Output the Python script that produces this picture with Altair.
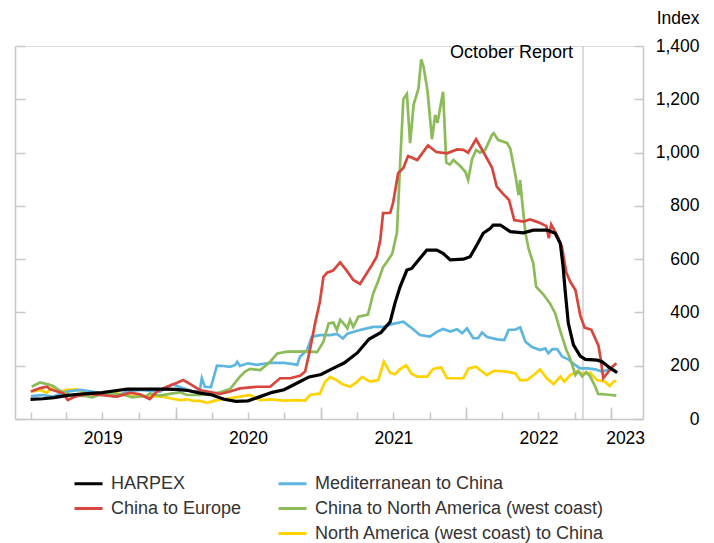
import altair as alt
import pandas as pd

FONT = "Liberation Sans"
AX_COL = "#c8c8c8"

# ---- data (days since 2019-01-01, index values) ----
harpex_days = [0, 31, 59, 89, 120, 151, 180, 213, 243, 273, 303, 334, 365, 396, 424, 457, 487, 517, 547, 578,
               608, 638, 671, 701, 731, 761, 789, 822, 852, 882, 905, 917, 930, 947, 959, 980, 997, 1022, 1038, 1056,
               1089, 1106, 1123, 1139, 1157, 1164, 1182, 1207, 1240, 1265, 1300, 1320, 1333, 1340, 1345, 1353, 1366,
               1383, 1396, 1426, 1438, 1454, 1476]
harpex_vals = [74, 76, 80, 88, 93, 96, 99, 106, 112, 112, 112, 112, 111, 107, 98, 90, 74, 66, 68, 84,
               100, 110, 135, 158, 167, 190, 210, 248, 300, 325, 365, 435, 497, 559, 565, 603, 634, 634, 622, 597,
               600, 609, 653, 697, 716, 728, 728, 703, 699, 709, 709, 697, 659, 572, 484, 360, 278,
               236, 224, 221, 215, 196, 174]

europe_days = [1, 24, 42, 49, 67, 82, 94, 112, 142, 175, 218, 250, 275, 300, 318, 343, 369, 384, 401, 426,
               477, 502, 527, 570, 603, 628, 653, 678, 691, 703, 716, 728, 737, 746, 761, 779, 796, 812, 829, 846,
               859, 871, 880, 887, 905, 912, 925, 938, 950, 973, 1000, 1021, 1048, 1073, 1089, 1101, 1121, 1139,
               1161, 1173, 1189, 1204, 1217, 1240, 1257, 1278, 1298, 1304, 1310, 1323, 1337, 1348, 1358, 1371,
               1383, 1394, 1411, 1429, 1435, 1441, 1454, 1464, 1474]
europe_vals = [103, 116, 121, 112, 103, 97, 71, 84, 94, 90, 84, 99, 93, 75, 103, 121, 136, 146, 132, 109,
               94, 103, 115, 121, 121, 153, 153, 162, 178, 259, 359, 440, 534, 549, 557, 588, 556, 522, 507, 547,
               578, 609, 672, 773, 774, 810, 923, 942, 987, 972, 1027, 1002, 997, 1012, 1010, 1000, 1050, 1003,
               944, 872, 845, 822, 747, 741, 749, 738, 724, 678, 730, 695, 647, 550, 515, 484,
               390, 343, 335, 275, 221, 153, 178, 196, 209]

med_days = [1, 31, 57, 92, 125, 155, 175, 213, 243, 275, 326, 358, 384, 409, 426, 431, 439, 454, 459, 469,
            485, 502, 515, 520, 527, 547, 570, 603, 635, 661, 671, 678, 696, 708, 728, 754, 771, 786, 797, 829,
            862, 887, 912, 938, 955, 980, 1005, 1023, 1038, 1056, 1073, 1086, 1098, 1114, 1126, 1136, 1149, 1174,
            1192, 1203, 1219, 1232, 1245, 1262, 1282, 1295, 1303, 1313, 1325, 1338, 1353, 1368, 1383, 1401, 1421,
            1438, 1456, 1474]
med_vals = [86, 90, 84, 103, 109, 103, 96, 84, 103, 109, 103, 130, 115, 103, 105, 153, 121, 120, 146, 200,
            199, 196, 203, 215, 199, 209, 203, 211, 211, 206, 203, 234, 259, 309, 315, 315, 319, 302, 320, 334,
            346, 346, 357, 365, 346, 315, 309, 328, 338, 328, 337, 322, 340, 303, 303, 325, 308, 299,
            296, 335, 335, 344, 290, 270, 259, 265, 247, 262, 262, 234, 224, 205, 190, 190, 186,
            178, 187, 178]

cna_days = [3, 24, 42, 57, 74, 99, 142, 155, 182, 208, 243, 255, 293, 300, 325, 358, 376, 394, 426, 452,
            477, 502, 527, 540, 552, 578, 603, 621, 646, 671, 696, 721, 737, 750, 762, 771, 779, 791, 797, 804,
            812, 825, 849, 862, 874, 887, 897, 910, 922, 930, 938, 947, 955, 964, 976, 983, 989, 999, 1010, 1018,
            1024, 1038, 1046, 1055, 1064, 1081, 1094, 1101, 1111, 1121, 1131, 1144, 1161, 1165, 1177, 1199, 1207,
            1220, 1228, 1232, 1236, 1245, 1253, 1265, 1272, 1290, 1307, 1320, 1333, 1348, 1358, 1371, 1378, 1388,
            1398, 1408, 1421, 1428, 1448, 1474]
cna_vals = [121, 137, 131, 124, 106, 90, 86, 81, 96, 96, 88, 81, 87, 96, 88, 96, 100, 90, 90, 94,
            100, 112, 159, 178, 188, 184, 215, 246, 253, 253, 254, 251, 290, 359, 362, 334, 372, 353, 340, 372,
            346, 384, 392, 470, 515, 570, 590, 620, 700, 960, 1200, 1220, 1035, 1180, 1240, 1350, 1322, 1230, 1050, 1141,
            1112, 1228, 963, 955, 972, 950, 928, 897, 975, 1010, 1000, 1010, 1066, 1073, 1047, 1036, 1015,
            915, 840, 897, 830, 700, 640, 584, 497, 468, 434, 397, 330, 260, 225, 165, 180, 160,
            176, 160, 121, 94, 92, 88]

nac_days = [1, 24, 41, 57, 74, 91, 116, 141, 175, 217, 258, 300, 334, 351, 376, 394, 409, 426, 444, 469,
            502, 527, 552, 578, 603, 635, 671, 691, 703, 721, 728, 741, 754, 771, 784, 804, 822, 834, 854, 875,
            889, 905, 917, 930, 945, 959, 973, 998, 1013, 1033, 1048, 1068, 1089, 1102, 1121, 1131, 1148, 1165,
            1199, 1220, 1232, 1249, 1266, 1282, 1299, 1316, 1333, 1343, 1358, 1375, 1391, 1408, 1425, 1446,
            1457, 1467, 1474]
nac_vals = [103, 109, 99, 121, 103, 109, 111, 96, 99, 96, 86, 86, 84, 78, 71, 74, 68, 68, 61, 71,
            78, 84, 90, 71, 74, 69, 71, 69, 90, 94, 94, 140, 158, 145, 131, 121, 140, 158, 140, 146,
            215, 173, 168, 187, 201, 170, 159, 159, 188, 194, 153, 153, 153, 190, 196, 184, 165, 181,
            178, 171, 146, 146, 165, 186, 153, 131, 159, 140, 165, 178, 169, 174, 146, 140,
            124, 140, 143]

SERIES = {
    "HARPEX": (harpex_days, harpex_vals),
    "China to Europe": (europe_days, europe_vals),
    "Mediterranean to China": (med_days, med_vals),
    "China to North America (west coast)": (cna_days, cna_vals),
    "North America (west coast) to China": (nac_days, nac_vals),
}
# legend order (column-major, 3 rows x 2 columns); " " is an empty slot
LEGEND_ORDER = ["HARPEX", "China to Europe", " ", "Mediterranean to China",
                "China to North America (west coast)", "North America (west coast) to China"]
LEGEND_COLORS = ["#000000", "#d8453d", "#ffffff", "#5cb6e0", "#8cbb59", "#ffd300"]

YEAR_LABEL_DATES = [(2019, 7, 2), (2020, 7, 1), (2021, 7, 2), (2022, 7, 2), (2023, 2, 5)]
QUARTER_TICKS = [(y, m, 1) for y in range(2019, 2023) for m in (1, 4, 7, 10)] + [(2023, 1, 1)]
YEAR_TICKS = [(2020, 1, 1), (2021, 1, 1), (2022, 1, 1), (2023, 1, 1)]
Y_TICKS = [0, 200, 400, 600, 800, 1000, 1200, 1400]

report_df = pd.DataFrame({"date": ["2022-10-22"], "label": ["October Report"], "ypos": [1375]})

rows = []
base_date = pd.Timestamp("2019-01-01")
for name, (days, vals) in SERIES.items():
    for d, v in zip(days, vals):
        rows.append({"series": name, "date": base_date + pd.Timedelta(days=d), "value": v})
df = pd.DataFrame(rows)

W, H = 628, 373

def dt(t):
    return alt.DateTime(year=t[0], month=t[1], date=t[2])

x_scale = alt.Scale(domain=[alt.DateTime(year=2018, month=11, date=23), alt.DateTime(year=2023, month=3, date=22)])
y_scale = alt.Scale(domain=[0, 1400], nice=False)
color_scale = alt.Scale(domain=LEGEND_ORDER, range=LEGEND_COLORS)

legend = alt.Legend(title=None, orient="none", legendX=58, legendY=422, columns=2, columnPadding=30,
                    rowPadding=0, symbolType="stroke", symbolSize=784, symbolStrokeWidth=3,
                    labelFontSize=18, labelFont=FONT, labelColor="#333333", labelOffset=7,
                    labelLimit=400, padding=0)

x_label_axis = alt.Axis(orient="bottom", values=[dt(t) for t in YEAR_LABEL_DATES],
                        labelExpr="timeFormat(datum.value, '%Y')", tickSize=0, domain=True,
                        domainColor=AX_COL, domainWidth=1.5, labelFontSize=17.5, labelColor="#000000",
                        labelPadding=10, labelFlush=False, title=None, grid=False, labelFont=FONT)
x_quarter_axis = alt.Axis(orient="top", offset=-H, values=[dt(t) for t in QUARTER_TICKS], tickSize=7,
                          tickColor=AX_COL, tickWidth=1.5, labels=False, domain=False, title=None, grid=False)
x_year_axis = alt.Axis(orient="top", offset=-H, values=[dt(t) for t in YEAR_TICKS], tickSize=12,
                       tickColor=AX_COL, tickWidth=1.5, labels=False, domain=False, title=None, grid=False)

y_label_axis = alt.Axis(orient="right", values=Y_TICKS, format=",d", tickSize=0, labelAlign="right",
                        labelPadding=56, domain=True, domainColor=AX_COL, domainWidth=1.5,
                        labelFontSize=17.5, labelColor="#000000", labelFont=FONT, title="Index",
                        titleAngle=0, titleAlign="right", titleX=56, titleY=-28, titleBaseline="middle",
                        titleFontWeight="normal", titleFontSize=17.5, titleFont=FONT, titleColor="#000000",
                        grid=False, labelFlush=False)
y_left_ticks = alt.Axis(orient="right", offset=-W, values=Y_TICKS, tickSize=10, tickColor=AX_COL,
                        tickWidth=1.5, labels=False, domain=True, domainColor=AX_COL, domainWidth=1.5,
                        title=None, grid=False)
y_right_ticks = alt.Axis(orient="left", offset=-W, values=Y_TICKS, tickSize=9, tickColor=AX_COL,
                         tickWidth=1.5, labels=False, domain=False, title=None, grid=False)


def line(name, width, xaxis=None, yaxis=None):
    return alt.Chart(df).transform_filter(alt.datum.series == name).mark_line(strokeWidth=width).encode(
        x=alt.X("date:T", scale=x_scale, axis=xaxis),
        y=alt.Y("value:Q", scale=y_scale, axis=yaxis),
        color=alt.Color("series:N", scale=color_scale, legend=legend),
    )


rule = alt.Chart(report_df).mark_rule(color="#cfcfcf", strokeWidth=1.5).encode(
    x=alt.X("date:T", scale=x_scale, axis=None))
label = alt.Chart(report_df).mark_text(align="right", baseline="middle", dx=-10, fontSize=18, font=FONT,
                                       color="#000000").encode(
    x=alt.X("date:T", scale=x_scale, axis=None),
    y=alt.Y("ypos:Q", scale=y_scale, axis=None),
    text="label:N")

chart = alt.layer(
    rule,
    label,
    line("North America (west coast) to China", 2.7, x_label_axis, y_label_axis),
    line("Mediterranean to China", 2.7, x_quarter_axis, y_left_ticks),
    line("China to North America (west coast)", 2.7, x_year_axis, y_right_ticks),
    line("China to Europe", 2.7),
    line("HARPEX", 3.2),
).resolve_axis(x="independent", y="independent").properties(
    width=W, height=H, autosize="none",
    padding={"left": 7, "top": 38, "right": 63, "bottom": 124},
).configure_view(stroke=None).configure(font=FONT)

chart.save("out.html", embed_options={"renderer": "svg", "actions": False})
